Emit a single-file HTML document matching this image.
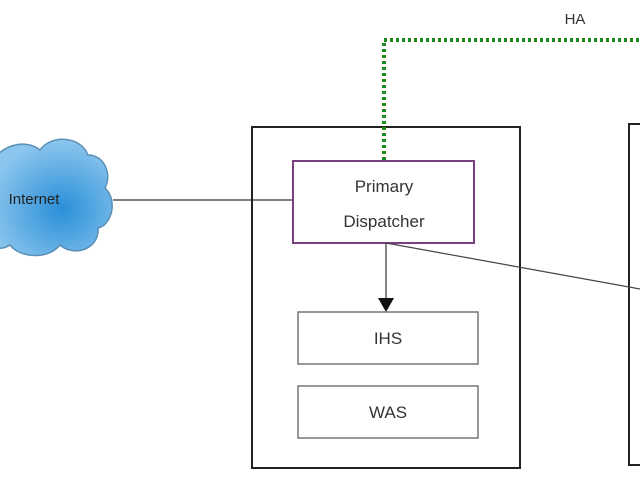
<!DOCTYPE html>
<html><head><style>body{margin:0;background:#fff}</style></head><body>
<svg width="640" height="480" xmlns="http://www.w3.org/2000/svg" style="display:block">
<defs><radialGradient id="g" cx="0.6" cy="0.6" r="0.6"><stop offset="0" stop-color="#2a8fd8"/><stop offset="1" stop-color="#8cc6ee"/></radialGradient></defs>
<path d="M-10,165 C0,145 25,138 40,150 C50,135 80,135 88,155 C105,155 112,175 105,188 C118,200 112,225 98,228 C100,248 75,258 60,245 C48,260 20,258 10,245 C-5,255 -20,240 -10,225 Z" fill="url(#g)" stroke="#5a8fb5" stroke-width="1.5"/>
<text x="34" y="204" font-family="Liberation Sans,sans-serif" font-size="15" text-anchor="middle" fill="#222">Internet</text>
<line x1="113" y1="200" x2="293" y2="200" stroke="#333" stroke-width="1.2"/>
<rect x="252" y="127" width="268" height="341" fill="none" stroke="#222" stroke-width="2"/>
<rect x="629" y="124" width="20" height="341" fill="none" stroke="#222" stroke-width="2"/>
<path d="M384,160 V40 H640" fill="none" stroke="#1d8a1d" stroke-width="4" stroke-dasharray="3,3"/>
<text x="575" y="24" font-family="Liberation Sans,sans-serif" font-size="15" text-anchor="middle" fill="#333">HA</text>
<rect x="293" y="161" width="181" height="82" fill="#fff" stroke="#7a3f80" stroke-width="2"/>
<text x="384" y="192" font-family="Liberation Sans,sans-serif" font-size="17" text-anchor="middle" fill="#333">Primary</text>
<text x="384" y="227" font-family="Liberation Sans,sans-serif" font-size="17" text-anchor="middle" fill="#333">Dispatcher</text>
<line x1="386" y1="243" x2="640" y2="289" stroke="#444" stroke-width="1.2"/>
<line x1="386" y1="243" x2="386" y2="300" stroke="#333" stroke-width="1.2"/>
<polygon points="378,298 394,298 386,312" fill="#111"/>
<rect x="298" y="312" width="180" height="52" fill="#fff" stroke="#777" stroke-width="1.5"/>
<text x="388" y="344" font-family="Liberation Sans,sans-serif" font-size="17" text-anchor="middle" fill="#333">IHS</text>
<rect x="298" y="386" width="180" height="52" fill="#fff" stroke="#777" stroke-width="1.5"/>
<text x="388" y="418" font-family="Liberation Sans,sans-serif" font-size="17" text-anchor="middle" fill="#333">WAS</text>
</svg>
</body></html>
